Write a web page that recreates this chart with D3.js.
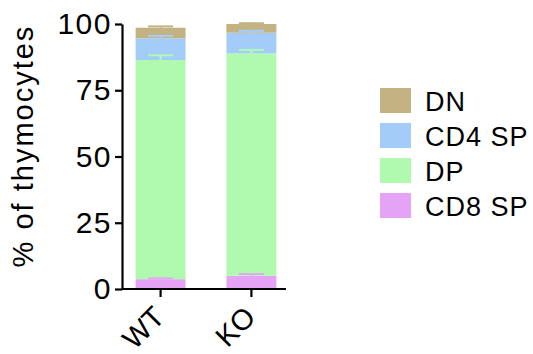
<!DOCTYPE html>
<meta charset="utf-8">
<head>
  <title>Thymocyte subsets</title>
</head>

<style>
body { margin: 0; background: #fff; }
text { font-family: "Liberation Sans", Arial, sans-serif; fill: #000; }
</style>

<body>
  <svg width="533" height="354"></svg>

  <script src="https://cdn.jsdelivr.net/npm/d3@7"></script>
  <script>
var groups = ["WT", "KO"];
// stacked from the bottom up
var subsets = ["CD8 SP", "DP", "CD4 SP", "DN"];
var colors = ["#e5a3f6", "#affaaf", "#a3cdf8", "#c3b383"];
var wtValues = [3.7, 82.7, 8.2, 4.0];
var koValues = [5.0, 83.9, 7.8, 3.3];
var wtErrors = [0.3, 1.8, 0.9, 0.5];
var koErrors = [0.6, 1.3, 0.7, 0.3];
var yTicks = [0, 25, 50, 75, 100];
var legendOrder = ["DN", "CD4 SP", "DP", "CD8 SP"];

var values = [wtValues, koValues];
var errors = [wtErrors, koErrors];

var svg = d3.select('svg');

var y = d3.scaleLinear().domain([0, 100]).range([289, 24]);
var x = d3.scaleBand().domain(groups).range([122, 290]).paddingInner(0.45).paddingOuter(0.15);

// bars
groups.forEach(function(g, gi) {
  var base = 0;
  var segs = values[gi].map(function(v, i) {
    var s = { y0: base, y1: base + v, color: colors[i], err: errors[gi][i] };
    base += v;
    return s;
  });
  var gg = svg.append('g');
  gg.selectAll('rect')
    .data(segs)
    .enter()
    .append('rect')
    .attr('x', x(g))
    .attr('width', x.bandwidth())
    .attr('y', function(d) { return y(d.y1); })
    .attr('height', function(d) { return y(d.y0) - y(d.y1); })
    .attr('fill', function(d) { return d.color; });

  // error bars, drawn in the segment colour
  var cx = x(g) + x.bandwidth() / 2;
  var capW = x.bandwidth() / 2;
  segs.forEach(function(d) {
    gg.append('line')
      .attr('x1', cx).attr('x2', cx)
      .attr('y1', y(d.y1)).attr('y2', y(d.y1 + d.err))
      .attr('stroke', d.color).attr('stroke-width', 2);
    gg.append('line')
      .attr('x1', cx - capW / 2).attr('x2', cx + capW / 2)
      .attr('y1', y(d.y1 + d.err)).attr('y2', y(d.y1 + d.err))
      .attr('stroke', d.color).attr('stroke-width', 2);
  });
});

// y axis
var yAxis = d3.axisLeft(y).tickValues(yTicks).tickSize(7).tickSizeOuter(0).tickPadding(3);
var yg = svg.append('g').attr('transform', 'translate(122,0)').call(yAxis);
yg.select('.domain').attr('stroke-width', 2.2);
yg.selectAll('.tick line').attr('stroke-width', 2.2);
yg.selectAll('.tick text')
  .attr('font-size', 30)
  .attr('letter-spacing', 1.5)
  .attr('font-family', '"Liberation Sans", Arial, sans-serif');

// x axis
var xAxis = d3.axisBottom(x).tickSize(8).tickSizeOuter(0);
var xg = svg.append('g').attr('transform', 'translate(0,289)').call(xAxis);
xg.select('.domain').attr('d', 'M122,0H286').attr('stroke-width', 2.2);
xg.selectAll('.tick line').attr('stroke-width', 2.2);
xg.selectAll('.tick text')
  .attr('font-size', 29)
  .attr('font-family', '"Liberation Sans", Arial, sans-serif')
  .attr('text-anchor', 'end')
  .attr('y', 0)
  .attr('dy', '0.72em')
  .attr('transform', 'translate(-9,15) rotate(-45)');

// y title
svg.append('text')
  .attr('transform', 'translate(33,146) rotate(-90)')
  .attr('text-anchor', 'middle')
  .attr('font-size', 29)
  .attr('letter-spacing', 2)
  .text('% of thymocytes');

// legend
var legend = svg.append('g').attr('transform', 'translate(380,88)');
var items = legend.selectAll('g')
  .data(legendOrder)
  .enter()
  .append('g')
  .attr('transform', function(d, i) { return 'translate(0,' + (i * 35) + ')'; });
items.append('rect')
  .attr('width', 31)
  .attr('height', 25)
  .attr('fill', function(d) { return colors[subsets.indexOf(d)]; });
items.append('text')
  .attr('x', 45)
  .attr('y', 13)
  .attr('dy', '0.36em')
  .attr('font-size', 27)
  .attr('letter-spacing', 1)
  .text(function(d) { return d; });
  </script>
</body>
</html>
